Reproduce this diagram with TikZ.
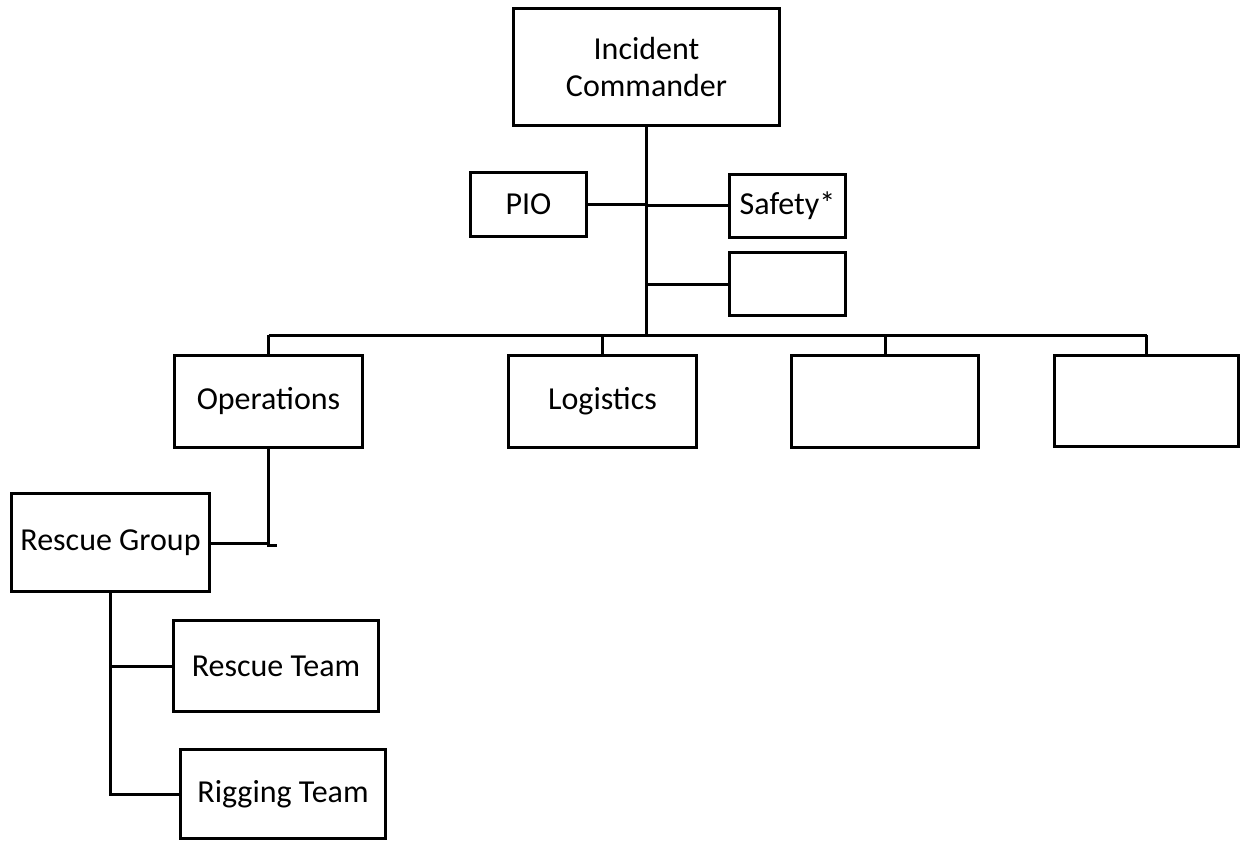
\documentclass[tikz,border=0pt]{standalone}
\usepackage{fontspec}
\setmainfont{Carlito}
\begin{document}
\begin{tikzpicture}[x=1pt,y=-1pt,
  box/.style={draw=black, line width=3pt, rectangle, inner sep=0pt, align=center,
    font=\fontsize{32}{37}\selectfont},
  conn/.style={draw=black, line width=3pt},
  trunk/.style={draw=black, line width=3.5pt}]
\useasboundingbox (0,0) rectangle (1241,842);
% boxes
\node[box, minimum width=266pt, minimum height=117pt] (ic) at (646.5,67) {Incident\\Commander};
\node[box, minimum width=116pt, minimum height=64pt] (pio) at (528.5,204.5) {PIO};
\node[box, minimum width=116pt, minimum height=63pt] (safety) at (787.5,206) {Safety*};
\node[box, minimum width=116pt, minimum height=63pt] (staff) at (787.5,284) {};
\node[box, minimum width=188pt, minimum height=92pt] (ops) at (268.5,401.5) {Operations};
\node[box, minimum width=188pt, minimum height=92pt] (log) at (602.5,401.5) {Logistics};
\node[box, minimum width=187pt, minimum height=92pt] (sec3) at (885,401.5) {};
\node[box, minimum width=184pt, minimum height=91pt] (sec4) at (1146.5,401) {};
\node[box, minimum width=198pt, minimum height=98pt] (rg) at (110.5,542.5) {Rescue Group};
\node[box, minimum width=205pt, minimum height=91pt] (rt) at (276,666) {Rescue Team};
\node[box, minimum width=205pt, minimum height=89pt] (rig) at (283,794) {Rigging Team};
% coordinates
\coordinate (tb) at (646.5,335);
\coordinate (bl) at (268.5,335);
\coordinate (br) at (1146.5,335);
\coordinate (pj) at (646.5,204.5);
\coordinate (sj) at (646.5,206);
\coordinate (ej) at (646.5,284);
\coordinate (oe) at (268.5,545);
\coordinate (ot) at (277,545);
\coordinate (oj) at (268.5,543);
% connectors
\draw[trunk] (ic.south) -- (tb);
\draw[conn] (bl) -- (br);
\draw[conn] (pio.east) -- (pj);
\draw[conn] (sj) -- (safety.west);
\draw[conn] (ej) -- (staff.west);
\draw[conn] (ops.north) -- (ops.north |- tb);
\draw[conn] (log.north) -- (log.north |- tb);
\draw[conn] (sec3.north) -- (sec3.north |- tb);
\draw[conn] (sec4.north) -- (sec4.north |- tb);
\draw[conn] (ops.south) -- (oe) -- (ot);
\draw[conn] (rg.east |- oj) -- (oj);
\draw[conn] (rg.south) -- (rg.south |- rig.west) -- (rig.west);
\draw[conn] (rg.south |- rt.west) -- (rt.west);
\end{tikzpicture}
\end{document}
